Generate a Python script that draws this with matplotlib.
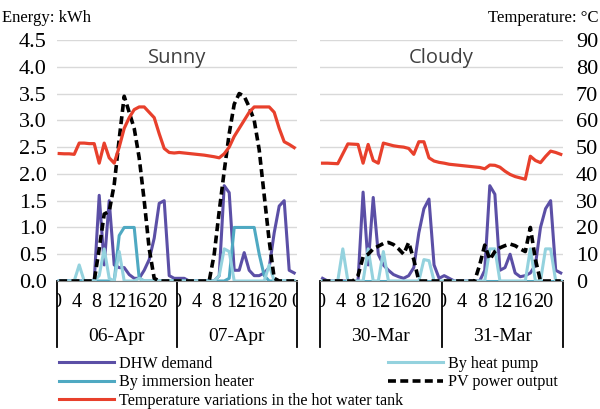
import numpy as np
import matplotlib
matplotlib.use("Agg")
import matplotlib.pyplot as plt
from matplotlib.lines import Line2D
import matplotlib.transforms as mtransforms

plt.rcParams['font.family'] = ['Liberation Serif', 'DejaVu Serif']

hour_ticks = [0, 4, 8, 12, 16, 20]
sunny_days = ["06-Apr", "07-Apr"]
cloudy_days = ["30-Mar", "31-Mar"]

# sunny (06-Apr then 07-Apr), hourly, kWh
sunny_dhw = [0, 0, 0, 0, 0, 0, 0, 0, 1.6, 0.3, 1.5, 0.3,
             0.25, 0.25, 0.12, 0.05, 0.05, 0.2, 0.4, 0.8, 1.45, 1.5, 0.1, 0.05,
             0.05, 0.05, 0, 0, 0, 0, 0, 0, 0.1, 1.78, 1.65, 0.2,
             0.2, 0.53, 0.2, 0.1, 0.1, 0.15, 0.25, 0.9, 1.4, 1.5, 0.2, 0.15]
sunny_hp = [0, 0, 0, 0, 0.3, 0, 0, 0, 0.1, 0.6, 0.05, 0,
            0.55, 0, 0, 0, 0.05, 0, 0, 0, 0, 0, 0, 0,
            0, 0, 0, 0, 0, 0, 0, 0, 0.1, 0.6, 0.55, 0,
            0, 0, 0, 0, 0, 0, 0.3, 0, 0, 0, 0, 0]
sunny_ih = [0, 0, 0, 0, 0, 0, 0, 0, 0, 0, 0, 0,
            0.85, 1.0, 1.0, 1.0, 0.05, 0, 0, 0, 0, 0, 0, 0,
            0, 0, 0, 0, 0, 0, 0, 0, 0, 0, 0.05, 1.0,
            1.0, 1.0, 1.0, 1.0, 0.5, 0.1, 0, 0, 0, 0, 0, 0]
sunny_pv = [0, 0, 0, 0, 0, 0, 0, 0, 0.6, 1.25, 1.3, 1.8,
            2.65, 3.45, 3.15, 2.85, 2.3, 1.5, 0.6, 0.05, 0, 0, 0, 0,
            0, 0, 0, 0, 0, 0, 0, 0.5, 1.3, 2.05, 2.75, 3.3,
            3.5, 3.45, 3.25, 3.0, 2.45, 1.6, 0.75, 0.05, 0, 0, 0, 0]
sunny_temp = [47.6, 47.5, 47.5, 47.3, 51.5, 51.5, 51.3, 51.3, 44, 51.5, 46, 44,
              50, 57, 61, 64, 65, 65, 63, 61, 55, 49.5, 48, 47.8,
              48, 47.8, 47.6, 47.4, 47.2, 47, 46.7, 46.4, 46, 47.5, 50, 54,
              57, 60, 63, 65, 65, 65, 65, 63, 57, 52, 51, 49.8]

# cloudy (30-Mar then 31-Mar)
cloudy_dhw = [0.05, 0, 0, 0, 0, 0, 0, 0, 1.66, 0.3, 1.56, 0.5,
              0.3, 0.2, 0.12, 0.08, 0.05, 0.1, 0.25, 0.9, 1.35, 1.53, 0.3, 0.05,
              0.1, 0.05, 0, 0, 0, 0, 0, 0, 0.2, 1.78, 1.62, 0.2,
              0.25, 0.5, 0.15, 0.08, 0.1, 0.15, 0.3, 1.0, 1.35, 1.5, 0.2, 0.15]
cloudy_hp = [0, 0, 0, 0, 0.6, 0, 0, 0, 0, 0.6, 0, 0,
             0.55, 0, 0, 0, 0, 0, 0, 0, 0.4, 0.38, 0, 0,
             0, 0, 0, 0, 0, 0, 0, 0, 0, 0.6, 0.6, 0,
             0, 0, 0, 0, 0, 0.6, 0, 0, 0.6, 0.6, 0, 0]
cloudy_ih = [0] * 48
cloudy_pv = [0, 0, 0, 0, 0, 0, 0, 0.1, 0.45, 0.5, 0.6, 0.65,
             0.7, 0.72, 0.68, 0.6, 0.5, 0.72, 0.4, 0, 0, 0, 0, 0,
             0, 0, 0, 0, 0, 0, 0, 0.3, 0.67, 0.4, 0.55, 0.62,
             0.66, 0.69, 0.66, 0.6, 0.55, 1.0, 0.4, 0, 0, 0, 0, 0]
cloudy_temp = [44, 44, 43.9, 43.8, 47.5, 51.2, 51.1, 51, 44, 51, 45, 44,
               51.5, 51, 50.5, 50.2, 50, 49.5, 47.3, 52, 52, 46, 44.8, 44.3,
               44, 43.6, 43.4, 43.2, 43, 42.8, 42.6, 42.4, 41.9, 43.3, 43.2, 42.5,
               41, 39.8, 39, 38.5, 38, 46.6, 45, 44.2, 46.5, 48.5, 48, 47.3]

c_dhw = '#5b4fa6'
c_hp = '#94d2de'
c_ih = '#4fa9c2'
c_temp = '#e8402c'

W, H = 600, 409
fig = plt.figure(figsize=(6, 4.09), dpi=100)

def panel(rect, title, days, dhw, hp, ih, pv, temp, left_lab, right_lab, tail_zero):
    ax = fig.add_axes(rect)
    x = np.arange(48)
    ax.plot(x, dhw, color=c_dhw, lw=2.2, zorder=3)
    ax.plot(x, ih, color=c_ih, lw=2.2, zorder=3)
    ax.plot(x, hp, color=c_hp, lw=2.2, zorder=3)
    ax.plot(x, pv, color='black', lw=2.6, ls=(0, (2.2, 1.2)), zorder=4)
    ax.set_xlim(-0.5, 47.5)
    ax.set_ylim(0, 4.5)
    ax.set_yticks(np.arange(0, 4.51, 0.5))
    ax.grid(axis='y', color='#d9d9d9', lw=1)
    ax.set_axisbelow(True)
    for s in ['top', 'left', 'right']:
        ax.spines[s].set_visible(False)
    ax.spines['bottom'].set_color('#808080')
    ax.set_xticks([])
    if left_lab:
        ax.set_yticklabels(['%.1f' % v for v in np.arange(0, 4.51, 0.5)])
        ax.tick_params(axis='y', length=0, labelsize=16, pad=7)
    else:
        ax.tick_params(axis='y', length=0, labelleft=False)

    tw = ax.twinx()
    tw.plot(x, temp, color=c_temp, lw=2.3, zorder=3)
    tw.set_ylim(0, 90)
    tw.set_yticks(np.arange(0, 91, 10))
    for s in tw.spines.values():
        s.set_visible(False)
    if right_lab:
        tw.tick_params(axis='y', length=0, labelsize=16, pad=9)
    else:
        tw.tick_params(axis='y', length=0, labelright=False)

    trans = mtransforms.blended_transform_factory(ax.transData, ax.transAxes)
    for d in range(2):
        clip = mtransforms.TransformedBbox(
            mtransforms.Bbox([[d * 24 - 0.5, -0.2], [d * 24 + 23.5, 0]]), trans)
        hours = hour_ticks + ([24] if (tail_zero and d == 1) else [])
        for h in hours:
            t = ax.text(d * 24 + h - 0.5, -0.091, str(h % 24), transform=trans,
                        ha='center', va='center', fontsize=14.5)
            t.set_clip_box(clip)
            t.set_clip_on(True)
        ax.text(d * 24 + 11.5, -0.232, days[d], transform=trans, ha='center',
                va='center', fontsize=14)
    for xs in [-0.5, 23.5, 47.5]:
        ax.add_line(Line2D([xs, xs], [0, -0.274], transform=trans, color='black',
                           lw=1.3, clip_on=False))
    ax.text(0.5, 0.925, title, transform=ax.transAxes, ha='center', va='center',
            fontsize=14.5, color='#404040', family='Open Sans')
    return ax

bottom = 1 - 281 / H
height = 241 / H
panel([56.7 / W, bottom, 240 / W, height], "Sunny", sunny_days,
      sunny_dhw, sunny_hp, sunny_ih, sunny_pv, sunny_temp, True, False, True)
panel([320 / W, bottom, 243.3 / W, height], "Cloudy", cloudy_days,
      cloudy_dhw, cloudy_hp, cloudy_ih, cloudy_pv, cloudy_temp, False, True, False)

fig.text(2 / W, 1 - 18 / H, "Energy: kWh", fontsize=12, va='center')
fig.text(598 / W, 1 - 18 / H, "Temperature: °C", fontsize=12, va='center',
         ha='right')

h_dhw = Line2D([], [], color=c_dhw, lw=2.2)
h_ih = Line2D([], [], color=c_ih, lw=2.2)
h_temp = Line2D([], [], color=c_temp, lw=2.2)
h_hp = Line2D([], [], color=c_hp, lw=2.2)
h_pv = Line2D([], [], color='black', lw=2.6, ls=(0, (2.2, 1.2)))

kw = dict(frameon=False, fontsize=11.6, handlelength=3.4, handletextpad=0.35,
          borderpad=0, borderaxespad=0, labelspacing=0.14, loc='upper left')
fig.legend([h_dhw, h_ih, h_temp],
           ["DHW demand", "By immersion heater",
            "Temperature variations in the hot water tank"],
           bbox_to_anchor=(59 / W, 1 - 356 / H), **kw)
fig.legend([h_hp, h_pv], ["By heat pump", "PV power output"],
           bbox_to_anchor=(388 / W, 1 - 356 / H), **kw)

fig.savefig("out.png", dpi=100)
